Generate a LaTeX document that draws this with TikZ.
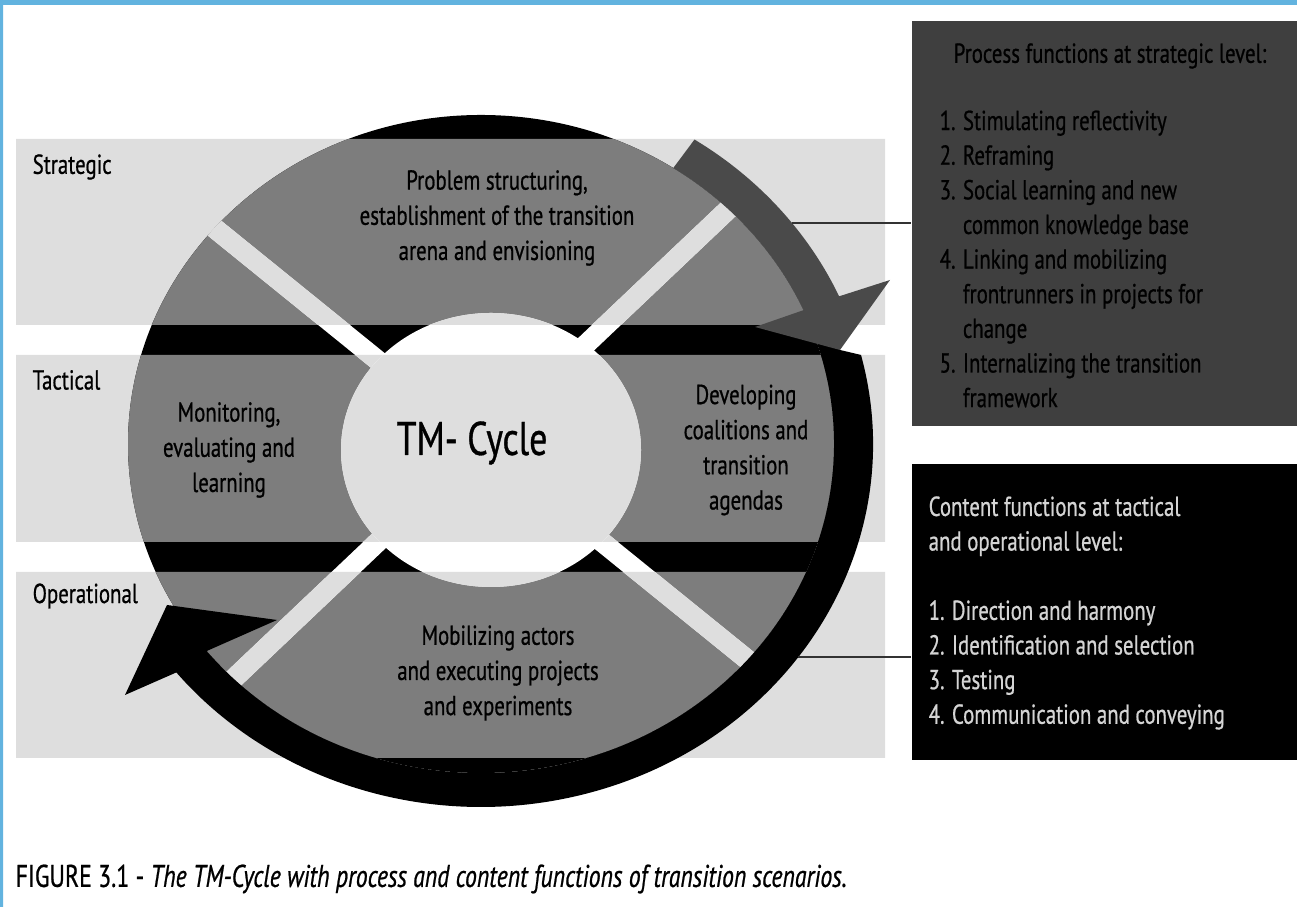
\documentclass[tikz,border=0pt]{standalone}
\usepackage{fontspec}
\setmainfont{PT Sans}[FakeStretch=0.76, FakeBold=0.7]
\usetikzlibrary{calc}
\definecolor{borderblue}{HTML}{62B3DF}
\definecolor{bandgray}{HTML}{DEDEDE}
\definecolor{diskgray}{HTML}{7D7D7D}
\definecolor{procgray}{HTML}{3F3F3F}
\definecolor{arrowgray}{HTML}{4A4A4A}
\definecolor{contfg}{HTML}{D4D4D4}
% the three level rows, filled with #1
\newcommand{\bandrows}[1]{\fill[#1] (16,582) rectangle (885,768) (16,365) rectangle (885,552) (16,149) rectangle (885,335);}
\begin{document}
\begin{tikzpicture}[x=0.01cm, y=0.01cm, line join=round,
    lbl/.style={anchor=west, inner sep=0pt, font=\fontsize{7.8}{9.8}\selectfont},
    seg/.style={align=center, font=\fontsize{7.8}{10}\selectfont},
    listtext/.style={align=left, anchor=west, inner sep=0pt, font=\fontsize{7.8}{9.85}\selectfont},
    infobox/.style={anchor=north west, inner sep=0pt, minimum width=3.86cm}]
\useasboundingbox (0,0) rectangle (1297,907);
% frame and level rows
\fill[borderblue] (0,902) rectangle (1297,907) (0,0) rectangle (3,907);
\bandrows{bandgray}
\node[lbl] (strat) at (32,740) {Strategic};
\node[lbl] (tact) at (32,527) {Tactical};
\node[lbl] (oper) at (32,311) {Operational};
% the cycle disk with its cut-outs
\coordinate (c) at (481,463);
\fill[black] (c) ellipse [x radius=353, y radius=329];
\begin{scope}
    \clip (c) ellipse [x radius=353, y radius=329];
    \bandrows{diskgray}
    \foreach \a in {141,43.5}{
        \begin{scope}
            \clip[shift={(c)}, rotate=\a] (-400,-10) rectangle (400,10);
            \fill[white] (0,0) rectangle (1297,907);
            \bandrows{bandgray}
        \end{scope}}
    \clip (491,457) ellipse [x radius=150, y radius=137];
    \fill[white] (0,0) rectangle (1297,907);
    \bandrows{bandgray}
\end{scope}
\node[seg] (prob) at (497,689) {Problem structuring,\\establishment of the transition\\arena and envisioning};
\node[seg] (moni) at (229,457) {Monitoring,\\evaluating and\\learning};
\node[seg] (deve) at (746,457) {Developing\\coalitions and\\transition\\agendas};
\node[seg] (mobi) at (498,234) {Mobilizing actors\\and executing projects\\and experiments};
\node[font=\fontsize{13.4}{15}\selectfont] (tm) at (472,464) {TM- Cycle};
% cycle arrows
\fill[black] ($(c)+(14.2:392 and 363)$) arc[start angle=14.2, end angle=-141, x radius=392, y radius=363]
    -- (125,212) -- (167,302) -- (277,287)
    -- ($(c)+(-141:353 and 329)$) arc[start angle=-141, end angle=22, x radius=353, y radius=329]
    -- (840,557) -- cycle;
\fill[arrowgray] ($(c)+(57:392 and 363)$) arc[start angle=57, end angle=24, x radius=392, y radius=363]
    -- (890,627) -- (840,557) -- (755,580)
    -- ($(c)+(24:353 and 329)$) arc[start angle=24, end angle=57, x radius=353, y radius=329] -- cycle;
% function boxes
\node[infobox, fill=procgray, minimum height=4.05cm] (procbox) at (911,887) {};
\node[infobox, fill=black, minimum height=2.96cm] (contbox) at (911,444) {};
\node[listtext, text=black] (proct) at (953,851) {Process functions at strategic level:};
\node[listtext, text=black] (procl) at (939,648) {1. Stimulating reflectivity\\2. Reframing\\3. Social learning and new\\\phantom{3. }common knowledge base\\4. Linking and mobilizing\\\phantom{4. }frontrunners in projects for\\\phantom{4. }change\\5. Internalizing the transition\\\phantom{5. }framework};
\node[listtext, text=contfg] (contl) at (928,294) {Content functions at tactical\\and operational level:\\[9.85pt]1. Direction and harmony\\2. Identification and selection\\3. Testing\\4. Communication and conveying};
% connectors
\coordinate (p1) at ($(c)+(37.5:392 and 363)$);
\coordinate (p2) at ($(c)+(-36:392 and 363)$);
\draw[line width=0.5pt, black!80] (p1) -- (p1 -| procbox.west);
\draw[line width=0.5pt, black!80] (p2) -- (p2 -| contbox.west);
% caption
\node[anchor=west, inner sep=0pt, font=\fontsize{8.9}{10}\selectfont] (capt) at (15,28) {FIGURE 3.1 - \textit{The TM-Cycle with process and content functions of transition scenarios.}};
\end{tikzpicture}
\end{document}
